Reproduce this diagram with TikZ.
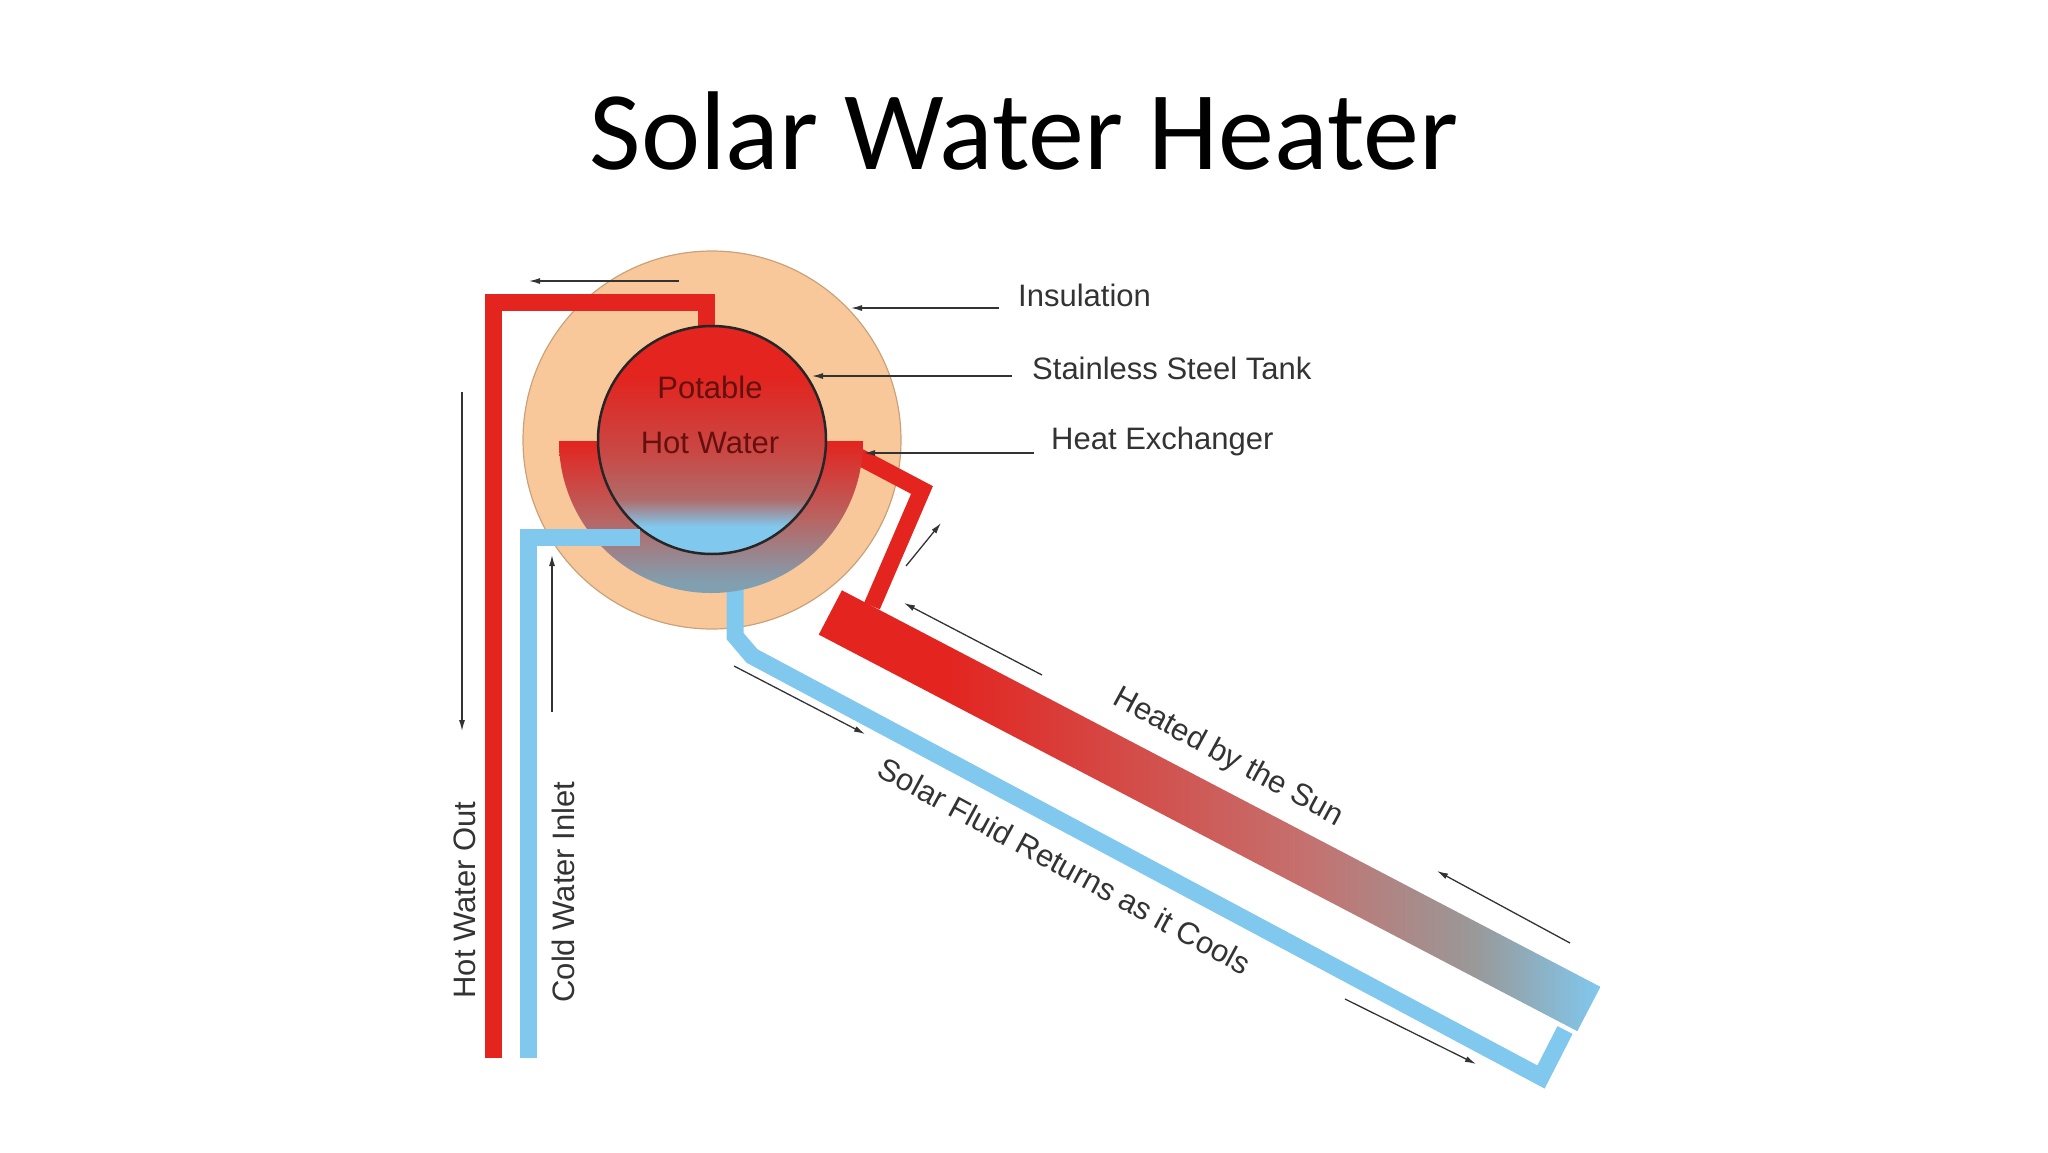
\documentclass[tikz,border=0pt]{standalone}
\usepackage{fontspec}
\setmainfont{Liberation Sans}
\newfontfamily\titlefont{Carlito}
\usetikzlibrary{arrows.meta}
\definecolor{hotred}{HTML}{E3241F}
\definecolor{coldblue}{HTML}{80C8EE}
\definecolor{insul}{HTML}{F8C89A}
\definecolor{insuledge}{HTML}{C9A27A}
\definecolor{lbl}{HTML}{333333}
\pgfdeclarehorizontalshading{coll}{100bp}{color(0bp)=(hotred);color(33bp)=(hotred);color(56bp)=(hotred!55!gray!80!white);color(67bp)=(gray!80!white);color(75bp)=(coldblue);color(100bp)=(coldblue)}
\pgfdeclareverticalshading{tanksh}{100bp}{color(0bp)=(coldblue);color(31bp)=(coldblue);color(37bp)=(hotred!40!gray!90!white);color(47bp)=(hotred!70!gray!95!white);color(64bp)=(hotred);color(100bp)=(hotred)}
\pgfdeclareverticalshading{exsh}{100bp}{color(0bp)=(gray!60!coldblue);color(28bp)=(gray!55!coldblue);color(50bp)=(hotred!50!gray!90!white);color(75bp)=(hotred);color(100bp)=(hotred)}
\begin{document}
\begin{tikzpicture}[x=1pt,y=-1pt,
  pointer/.style={draw=lbl,line width=1.3pt,-{Latex[length=11pt,width=6pt]}},
  lab/.style={font=\fontsize{31}{34}\selectfont,text=lbl,inner sep=0pt},
  hotpipe/.style={draw=hotred,line width=17pt,line join=miter},
  coldpipe/.style={draw=coldblue,line width=17pt,line join=miter}]
\useasboundingbox (0,0) rectangle (2048,1152);
\node[font=\titlefont\fontsize{112}{120}\selectfont,inner sep=0pt] (title) at (1024,131) {Solar Water Heater};
\node[circle,fill=insul,draw=insuledge,line width=1.2pt,minimum size=378pt,inner sep=0pt] (ins) at (712,440) {};
\draw[hotpipe] (850,452) -- (922,490) -- (872,606);
\begin{scope}[shift={(849,594)},rotate=-27.6]
\shade[shading=coll] (-8,0) rectangle (848,50);
\end{scope}
\draw[coldpipe] (735,570) -- (735,636) -- (752,656) -- (1541,1077) -- (1565,1030);
\shade[shading=exsh] (559,441) arc[start angle=180,end angle=0,radius=152] -- (825,441) arc[start angle=0,end angle=180,radius=113] -- cycle;
\draw[hotpipe] (493,1058) -- (493,302) -- (706,302) -- (706,332);
\node[circle,shading=tanksh,draw=black!85,line width=2.5pt,minimum size=228pt,inner sep=0pt] (tank) at (712,440) {};
\draw[coldpipe] (528,1058) -- (528,537) -- (640,537);
\node[font=\fontsize{31}{34}\selectfont,text=hotred!45!black] (pot) at (710,387) {Potable};
\node[font=\fontsize{31}{34}\selectfont,text=hotred!45!black] (hw) at (710,443) {Hot Water};
\node[lab,anchor=west] (l1) at (1018,295) {Insulation};
\node[lab,anchor=west] (l2) at (1032,368) {Stainless Steel Tank};
\node[lab,anchor=west] (l3) at (1051,441) {Heat Exchanger};
\coordinate (p1) at (851,308); \coordinate (p2) at (812,376); \coordinate (p3) at (864,453);
\draw[pointer] (999,308) -- (p1);
\draw[pointer] (1012,376) -- (p2);
\draw[pointer] (1034,453) -- (p3);
\node[lab,rotate=90] (hwo) at (465,900) {Hot Water Out};
\node[lab,rotate=90] (cwi) at (563,892) {Cold Water Inlet};
\node[lab,rotate=-28.5] (hs) at (1228,758) {Heated by the Sun};
\node[lab,rotate=-28.5] (sf) at (1065,866) {Solar Fluid Returns as it Cools};
\draw[pointer] (679,281) -- (529,281);
\draw[pointer] (462,392) -- (462,731);
\draw[pointer] (552,712) -- (552,555);
\draw[pointer] (906,566) -- (941,523);
\draw[pointer] (1042,675) -- (904,603);
\draw[pointer] (1570,943) -- (1437,871);
\draw[pointer] (734,666) -- (865,734);
\draw[pointer] (1345,999) -- (1476,1064);
\end{tikzpicture}
\end{document}
